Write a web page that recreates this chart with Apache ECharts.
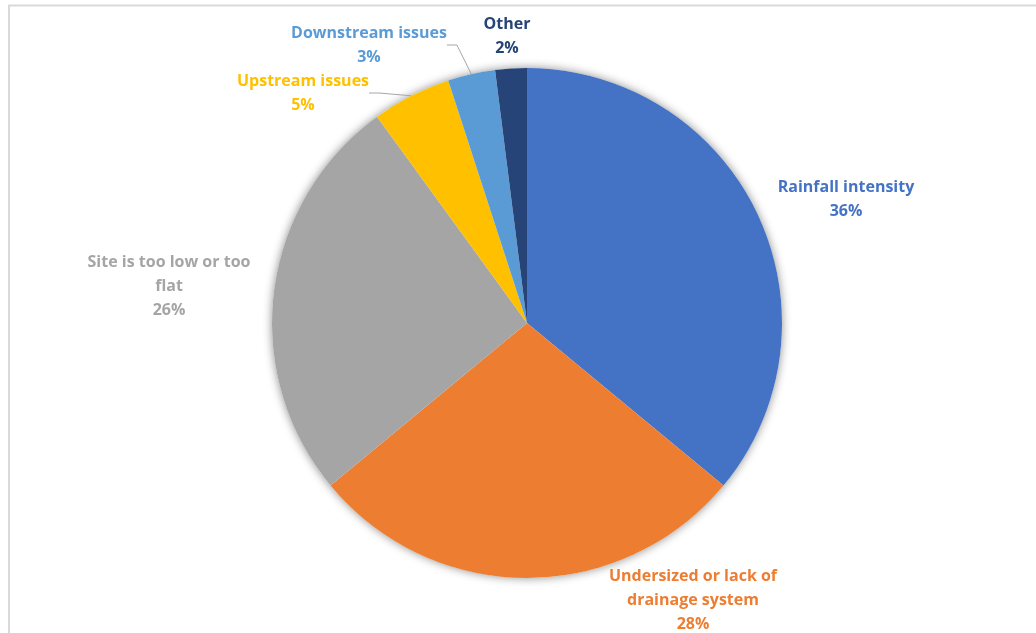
<!DOCTYPE html>
<html>
<head>
<meta charset="utf-8">
<script src="https://cdn.jsdelivr.net/npm/echarts@6/dist/echarts.min.js"></script>
<style>
  html, body { margin: 0; padding: 0; background: #ffffff; }
  #chart { width: 1036px; height: 633px; }
</style>
</head>
<body>
<div id="chart"></div>
<script>
// Causes of site flooding, share of responses (%)
const categories = [
  'Rainfall intensity',
  'Undersized or lack of\ndrainage system',
  'Site is too low or too\nflat',
  'Upstream issues',
  'Downstream issues',
  'Other'
];
const values = [36, 28, 26, 5, 3, 2];

// Office-style palette for the slices and their labels
const sliceColors = ['#4472C4', '#ED7D31', '#A5A5A5', '#FFC000', '#5B9BD5', '#264478'];

// Label block centres (pixels) and which labels carry a leader line
const labelSpots = [[846, 199], [693, 600], [169, 286], [303, 93], [369, 45], [507, 36]];
const withLeader = [false, false, false, true, true, false];

const FONT = '"Open Sans", "Liberation Sans", sans-serif';
const CENTER = [527, 323];
const RADIUS = 255;

const chart = echarts.init(document.getElementById('chart'), null, { renderer: 'canvas' });

chart.setOption({
  backgroundColor: '#ffffff',
  animation: false,
  graphic: [{
    type: 'polyline',
    shape: { points: [[9, 640], [9, 5.5], [1040, 5.5]] },
    style: { stroke: '#d9d9d9', lineWidth: 2, fill: null },
    silent: true
  }],
  series: [
    {
      // soft shadow disc under the pie
      type: 'pie',
      center: CENTER,
      radius: RADIUS,
      silent: true,
      z: 1,
      label: { show: false },
      labelLine: { show: false },
      itemStyle: {
        color: '#ffffff',
        shadowBlur: 10,
        shadowColor: 'rgba(0,0,0,0.45)',
        shadowOffsetX: 0,
        shadowOffsetY: 0
      },
      data: [{ value: 1, name: 'base' }]
    },
    {
      type: 'pie',
      center: CENTER,
      radius: RADIUS,
      startAngle: 90,
      clockwise: true,
      z: 2,
      itemStyle: { borderWidth: 0 },
      label: {
        show: true,
        position: 'outside',
        fontFamily: FONT,
        fontWeight: 'bold',
        fontSize: 16,
        lineHeight: 24,
        align: 'center',
        formatter: p => p.name + '\n' + p.value + '%'
      },
      labelLine: {
        show: false,
        length: 10,
        length2: 10,
        lineStyle: { color: '#a6a6a6', width: 1 }
      },
      labelLayout: function (params) {
        const spot = labelSpots[params.dataIndex];
        return { x: spot[0], y: spot[1], align: 'center', verticalAlign: 'middle' };
      },
      data: categories.map((name, i) => ({
        name: name,
        value: values[i],
        itemStyle: { color: sliceColors[i] },
        label: { color: sliceColors[i] },
        labelLine: { show: withLeader[i] }
      }))
    }
  ]
});
</script>
</body>
</html>
